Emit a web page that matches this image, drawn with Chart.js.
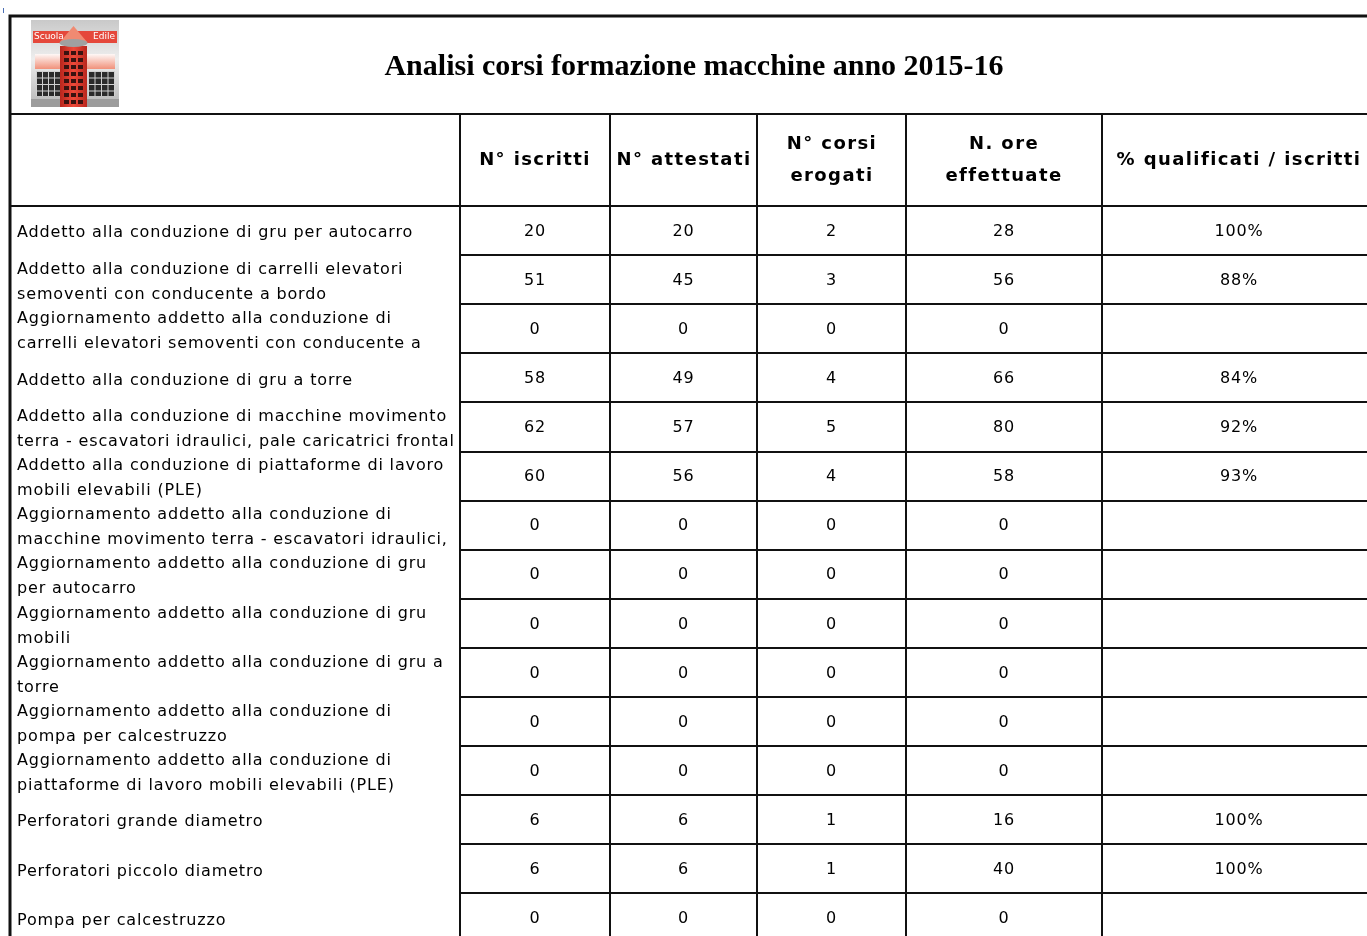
<!DOCTYPE html>
<html>
<head>
<meta charset="utf-8">
<script src="https://cdn.jsdelivr.net/npm/chart.js@4.4.1/dist/chart.umd.min.js"></script>
<style>
  html, body { margin: 0; padding: 0; background: #fff; }
  #wrap { width: 1367px; height: 936px; position: relative; }
</style>
</head>
<body>
<div id="wrap"><canvas id="tableChart"></canvas></div>
<script>
// --- data read from the sheet ---
const TITLE = 'Analisi corsi formazione macchine anno 2015-16';
const HEADERS = [
  ['N° iscritti'],
  ['N° attestati'],
  ['N° corsi', 'erogati'],
  ['N. ore', 'effettuate'],
  ['% qualificati / iscritti']
];
const CORSI = [
  ['Addetto alla conduzione di gru per autocarro'],
  ['Addetto alla conduzione di carrelli elevatori', 'semoventi con conducente a bordo'],
  ['Aggiornamento addetto alla conduzione di', 'carrelli elevatori semoventi con conducente a'],
  ['Addetto alla conduzione di gru a torre'],
  ['Addetto alla conduzione di macchine movimento', 'terra - escavatori idraulici, pale caricatrici frontal'],
  ['Addetto alla conduzione di piattaforme di lavoro', 'mobili elevabili (PLE)'],
  ['Aggiornamento addetto alla conduzione di', 'macchine movimento terra - escavatori idraulici,'],
  ['Aggiornamento addetto alla conduzione di gru', 'per autocarro'],
  ['Aggiornamento addetto alla conduzione di gru', 'mobili'],
  ['Aggiornamento addetto alla conduzione di gru a', 'torre'],
  ['Aggiornamento addetto alla conduzione di', 'pompa per calcestruzzo'],
  ['Aggiornamento addetto alla conduzione di', 'piattaforme di lavoro mobili elevabili (PLE)'],
  ['Perforatori grande diametro'],
  ['Perforatori piccolo diametro'],
  ['Pompa per calcestruzzo']
];
const ISCRITTI     = [20, 51, 0, 58, 62, 60, 0, 0, 0, 0, 0, 0, 6, 6, 0];
const ATTESTATI    = [20, 45, 0, 49, 57, 56, 0, 0, 0, 0, 0, 0, 6, 6, 0];
const CORSI_EROG   = [2, 3, 0, 4, 5, 4, 0, 0, 0, 0, 0, 0, 1, 1, 0];
const ORE          = [28, 56, 0, 66, 80, 58, 0, 0, 0, 0, 0, 0, 16, 40, 0];
const QUALIFICATI  = [100, 88, null, 84, 92, 93, null, null, null, null, null, null, 100, 100, null];

// --- sheet layout (in page units, mapped through the chart scales) ---
const COL_EDGES = [9, 460, 610, 757, 906, 1102, 1376];
const FRAME_TOP = 16;
const HEAD_TOP = 114;
const BODY_TOP = 206;
const ROW_H = 49.1;
const LABEL_X = 17;

const BODY_FONT = '16px "DejaVu Sans"';
const HEAD_FONT = 'bold 18px "DejaVu Sans"';
const TITLE_FONT = 'bold 30px "Liberation Serif"';

const colCenter = c => (COL_EDGES[c + 1] + COL_EDGES[c + 2]) / 2;
const rowCenter = r => BODY_TOP + ROW_H * r + ROW_H / 2;

function cellPoints(values, col) {
  return values.map((v, r) => ({ x: colCenter(col), y: rowCenter(r), v: v }));
}

const datasets = [
  { label: 'Corso', data: CORSI.map((t, r) => ({ x: LABEL_X, y: rowCenter(r), v: t })), align: 'left' },
  { label: 'N° iscritti', data: cellPoints(ISCRITTI, 0) },
  { label: 'N° attestati', data: cellPoints(ATTESTATI, 1) },
  { label: 'N° corsi erogati', data: cellPoints(CORSI_EROG, 2) },
  { label: 'N. ore effettuate', data: cellPoints(ORE, 3) },
  { label: '% qualificati', data: cellPoints(QUALIFICATI, 4), fmt: v => v == null ? '' : v + '%' }
].map(d => Object.assign({ pointRadius: 0, pointHoverRadius: 0 }, d));

function drawLogo(ctx, x, y, w, h) {
  ctx.save();
  let g = ctx.createLinearGradient(0, y, 0, y + h);
  g.addColorStop(0, '#c9c9c9');
  g.addColorStop(0.45, '#eeeeee');
  g.addColorStop(1, '#b5b5b5');
  ctx.fillStyle = g;
  ctx.fillRect(x, y, w, h);

  // side buildings roofs
  g = ctx.createLinearGradient(0, y + 33, 0, y + 50);
  g.addColorStop(0, '#ffffff');
  g.addColorStop(1, '#f08a72');
  ctx.fillStyle = g;
  ctx.fillRect(x + 4, y + 34, w - 8, 15);
  // windows
  ctx.fillStyle = '#2b2b2b';
  ctx.fillRect(x + 5, y + 51, 24, 25);
  ctx.fillRect(x + 57, y + 51, 27, 25);
  ctx.strokeStyle = '#d0d0d0';
  ctx.lineWidth = 1;
  for (let i = 0; i < 4; i++) {
    const yy = y + 51.5 + i * 6.5;
    ctx.beginPath(); ctx.moveTo(x + 5, yy); ctx.lineTo(x + 29, yy); ctx.moveTo(x + 57, yy); ctx.lineTo(x + 84, yy); ctx.stroke();
  }
  for (let i = 0; i < 5; i++) {
    ctx.beginPath();
    ctx.moveTo(x + 5.5 + i * 6, y + 51); ctx.lineTo(x + 5.5 + i * 6, y + 76);
    ctx.moveTo(x + 57.5 + i * 6.5, y + 51); ctx.lineTo(x + 57.5 + i * 6.5, y + 76);
    ctx.stroke();
  }
  // base
  ctx.fillStyle = '#9c9c9c';
  ctx.fillRect(x, y + h - 8, w, 8);

  // red banner
  ctx.fillStyle = '#e5483b';
  ctx.fillRect(x + 2, y + 11, w - 4, 12);
  ctx.fillStyle = '#fff';
  ctx.font = '9px "DejaVu Sans"';
  ctx.textBaseline = 'middle';
  ctx.textAlign = 'left';
  ctx.fillText('Scuola', x + 3, y + 17);
  ctx.textAlign = 'right';
  ctx.fillText('Edile', x + w - 4, y + 17);

  // tower
  g = ctx.createLinearGradient(x + 29, 0, x + 56, 0);
  g.addColorStop(0, '#b8261d');
  g.addColorStop(0.5, '#ef4a3a');
  g.addColorStop(1, '#b8261d');
  ctx.fillStyle = g;
  ctx.fillRect(x + 29, y + 26, 27, h - 26);
  // cone
  ctx.fillStyle = '#f08a72';
  ctx.beginPath();
  ctx.moveTo(x + 42.5, y + 6);
  ctx.lineTo(x + 56, y + 22);
  ctx.lineTo(x + 29, y + 22);
  ctx.closePath();
  ctx.fill();
  ctx.fillStyle = '#a0a0a0';
  ctx.beginPath();
  ctx.ellipse(x + 42.5, y + 23, 14, 4, 0, 0, Math.PI * 2);
  ctx.fill();
  // tower windows
  ctx.fillStyle = '#3a1210';
  for (let i = 0; i < 8; i++) {
    ctx.fillRect(x + 33, y + 31 + i * 7, 5, 4);
    ctx.fillRect(x + 40, y + 31 + i * 7, 5, 4);
    ctx.fillRect(x + 47, y + 31 + i * 7, 5, 4);
  }
  ctx.restore();
}

const tablePlugin = {
  id: 'tableSheet',
  beforeDatasetsDraw(chart) {
    const ctx = chart.ctx;
    const sx = chart.scales.x, sy = chart.scales.y;
    const px = v => Math.round(sx.getPixelForValue(v));
    const py = v => Math.round(sy.getPixelForValue(v));
    const right = px(1367);
    const bottom = py(936);
    const nRows = CORSI.length;

    ctx.save();
    // little mark at the sheet corner
    ctx.fillStyle = '#4a6fb5';
    ctx.fillRect(px(3), py(8), 1, 5);

    ctx.strokeStyle = '#111';
    // outer frame
    ctx.lineWidth = 3;
    ctx.beginPath();
    ctx.moveTo(px(9.5), bottom);
    ctx.lineTo(px(9.5), py(FRAME_TOP));
    ctx.lineTo(right, py(FRAME_TOP));
    ctx.stroke();

    ctx.lineWidth = 2;
    ctx.beginPath();
    // title / header / body separators across full width
    [HEAD_TOP, BODY_TOP].forEach(yv => {
      ctx.moveTo(px(COL_EDGES[0]), py(yv));
      ctx.lineTo(right, py(yv));
    });
    // column lines
    COL_EDGES.slice(1).forEach(xv => {
      ctx.moveTo(px(xv), py(HEAD_TOP));
      ctx.lineTo(px(xv), bottom);
    });
    // row lines only over the numeric columns
    for (let r = 1; r <= nRows; r++) {
      const yv = py(BODY_TOP + ROW_H * r);
      ctx.moveTo(px(COL_EDGES[1]), yv);
      ctx.lineTo(right, yv);
    }
    ctx.stroke();

    drawLogo(ctx, px(31), py(20), 88, 87);

    // title
    ctx.fillStyle = '#000';
    ctx.font = TITLE_FONT;
    ctx.textAlign = 'center';
    ctx.textBaseline = 'middle';
    ctx.fillText(TITLE, px(694), py(67));

    // column headers
    ctx.font = HEAD_FONT;
    ctx.letterSpacing = '1.4px';
    const headMid = (HEAD_TOP + BODY_TOP) / 2;
    HEADERS.forEach((lines, c) => {
      const cx = px(colCenter(c));
      lines.forEach((t, i) => {
        const off = (i - (lines.length - 1) / 2) * 32;
        ctx.fillText(t, cx, py(headMid + off));
      });
    });
    ctx.restore();
  },
  afterDatasetsDraw(chart) {
    const ctx = chart.ctx;
    ctx.save();
    ctx.fillStyle = '#000';
    ctx.font = BODY_FONT;
    ctx.letterSpacing = '0.85px';
    ctx.textBaseline = 'middle';
    chart.data.datasets.forEach((ds, di) => {
      const meta = chart.getDatasetMeta(di);
      ctx.textAlign = ds.align || 'center';
      meta.data.forEach((pt, i) => {
        const raw = ds.data[i].v;
        if (Array.isArray(raw)) {
          raw.forEach((t, k) => {
            const off = (k - (raw.length - 1) / 2) * 25 + 2.5;
            ctx.fillText(t, pt.x, pt.y + off);
          });
        } else {
          const s = ds.fmt ? ds.fmt(raw) : String(raw);
          ctx.fillText(s, pt.x, pt.y + 1);
        }
      });
    });
    ctx.restore();
  }
};

new Chart(document.getElementById('tableChart').getContext('2d'), {
  type: 'scatter',
  data: { datasets: datasets },
  plugins: [tablePlugin],
  options: {
    responsive: true,
    maintainAspectRatio: false,
    animation: false,
    events: [],
    layout: { padding: 0 },
    plugins: {
      legend: { display: false },
      tooltip: { enabled: false }
    },
    scales: {
      x: { type: 'linear', min: 0, max: 1367, display: false },
      y: { type: 'linear', min: 0, max: 936, reverse: true, display: false }
    }
  }
});
</script>
</body>
</html>
